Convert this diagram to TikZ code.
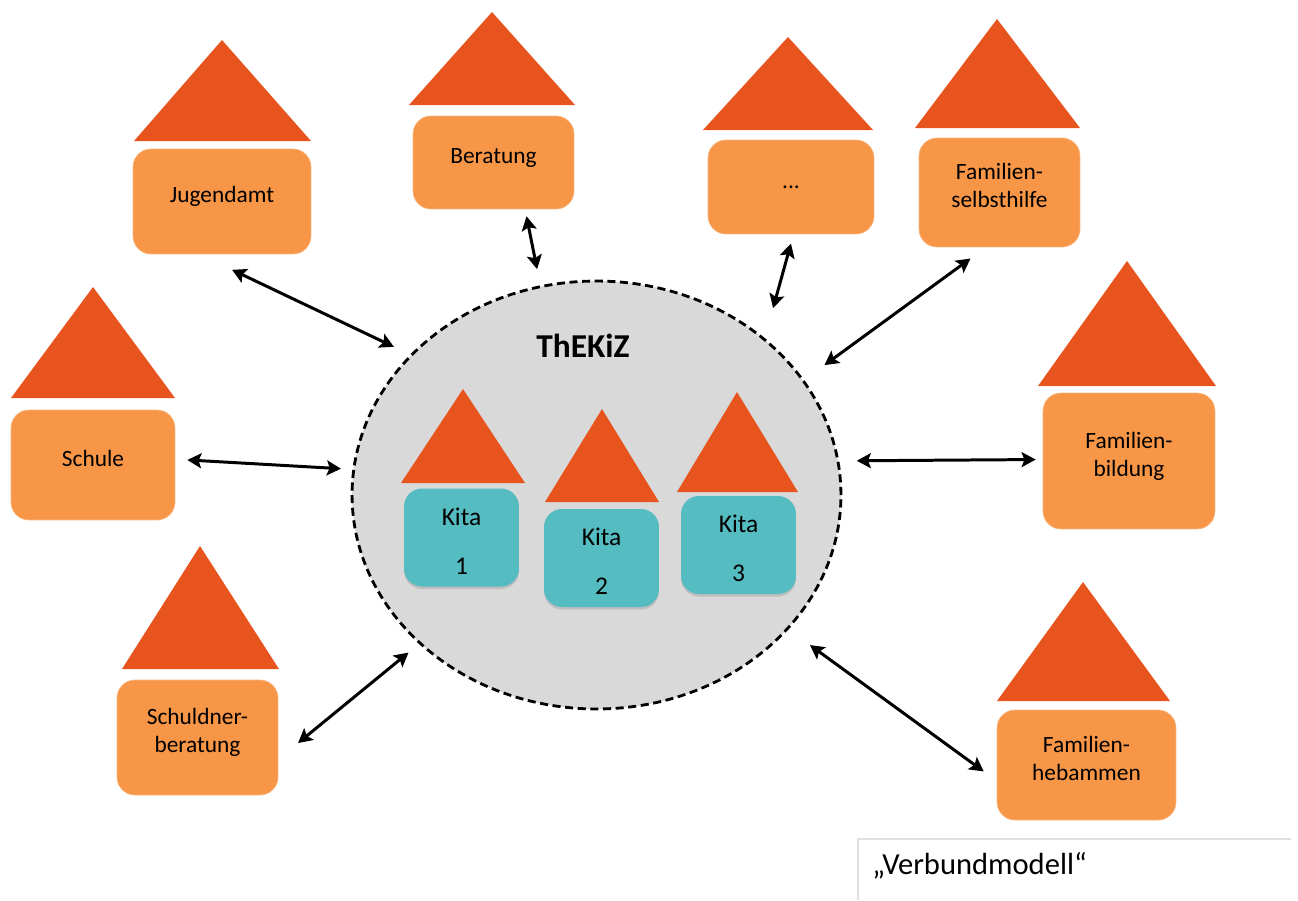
\documentclass[tikz,border=0pt]{standalone}
\usepackage{fontspec}
\setmainfont{Carlito}
\usetikzlibrary{arrows.meta,shapes.geometric,shadows}
\definecolor{roofred}{HTML}{E8541E}
\definecolor{boxorange}{HTML}{F79646}
\definecolor{kitateal}{HTML}{55BCC2}
\definecolor{netzgray}{HTML}{D9D9D9}
\tikzset{
>={Stealth[length=8pt,width=8.5pt,inset=1.6pt]},
  roof/.style={fill=roofred},
  partner/.style={
    rectangle,
    rounded corners=.36cm,
    fill=boxorange,
    draw=boxorange!70!white, thin,
    align=center,
    text depth=.28cm,
    font=\fontsize{13.3}{16}\selectfont},
  kita/.style={
    rectangle,
    rounded corners=.36cm,
    fill=kitateal,
    drop shadow={opacity=.3, shadow xshift=0cm, shadow yshift=-.05cm},
    minimum width=2.3cm,
    minimum height=1.96cm,
    align=center,
    text height=41.7pt,
    font=\fontsize{14.5}{27.8}\selectfont},
  netz/.style={
    ellipse,
    fill=netzgray,
    draw=black, line width=1.6pt,
    dash pattern=on 4.6pt off 2.6pt,
    minimum width=9.78cm,
    minimum height=8.56cm},
  link/.style={draw, line width=1.7pt, <->},
  legendline/.style={draw=black!12, line width=.6pt},
}
\begin{document}
\begin{tikzpicture}[x=.02cm, y=-.02cm]
	\useasboundingbox (0,0) rectangle (1298,900);
	\node[netz] (thekiz) at (596.5,495) {};
	\node[font=\fontsize{19}{22}\selectfont\bfseries] (title) at (583,346) {ThEKiZ};
	% Daecher
	\foreach \xl/\xr/\xa/\ya/\yb in {134/311/222/40/141, 409/575/492/12/105, 703/873/788/37/130,
		915/1080/997/19/128, 1038/1216/1127/261/386, 997/1170/1083/582/701, 11/175/93/287/398,
		122/279/200/546/669, 401/525/463/389/483, 545/659/602/409/502, 677/798/737/392/492}
		\fill[roof] (\xl,\yb) -- (\xr,\yb) -- (\xa,\ya) -- cycle;
	\node[partner, minimum width=3.56cm, minimum height=2.1cm] (jugendamt) at (222,201.5) {Jugendamt};
	\node[partner, minimum width=3.22cm, minimum height=1.86cm] (beratung) at (493.5,162.5) {Beratung};
	\node[partner, minimum width=3.32cm, minimum height=1.88cm, text depth=0pt] (dots) at (791,187) {...};
	\node[partner, minimum width=3.22cm, minimum height=2.18cm] (selbsthilfe) at (999.5,192.5) {Familien-\\selbsthilfe};
	\node[partner, minimum width=3.44cm, minimum height=2.72cm] (bildung) at (1129,461) {Familien-\\bildung};
	\node[partner, minimum width=3.58cm, minimum height=2.2cm] (hebammen) at (1086.5,765) {Familien-\\hebammen};
	\node[partner, minimum width=3.28cm, minimum height=2.2cm] (schule) at (93,465) {Schule};
	\node[partner, minimum width=3.22cm, minimum height=2.3cm] (schuldner) at (197.5,737.5) {Schuldner-\\beratung};
	\node[kita] (kita1) at (461.5,537.5) {Kita\\1};
	\node[kita] (kita2) at (601.5,558) {Kita\\2};
	\node[kita] (kita3) at (738.5,545) {Kita\\3};
	% Verbindungen
	\draw[link, shorten <=.72cm, shorten >=.36cm] (jugendamt.-113.1) -- (thekiz.143.6);
	\draw[link, shorten <=.14cm, shorten >=.33cm] (beratung.-56.2) -- (thekiz.105.1);
	\draw[link, shorten <=.19cm, shorten >=.62cm] (dots.-87.8) -- (thekiz.43.9);
	\draw[link, shorten <=.38cm, shorten >=.5cm] (selbsthilfe.-104.6) -- (thekiz.29.6);
	\draw[link, shorten <=.14cm, shorten >=.35cm] (bildung.179.3) -- (thekiz.8.3);
	\draw[link, shorten <=.32cm, shorten >=.53cm] (hebammen.190.4) -- (thekiz.-35.2);
	\draw[link, shorten <=.24cm, shorten >=.23cm] (schule.4.2) -- (thekiz.174.8);
	\draw[link, shorten <=.51cm, shorten >=.27cm] (schuldner.-15.6) -- (thekiz.220.6);
	% Legende
	\coordinate (legendtop) at (1291,839);
	\coordinate (legendcorner) at (858,839);
	\coordinate (legendfoot) at (858,900);
	\draw[legendline] (legendtop) -- (legendcorner) -- (legendfoot);
	\node[anchor=west, inner sep=0pt, font=\fontsize{17.4}{20}\selectfont] (legend) at (872,866) {„Verbundmodell“};
\end{tikzpicture}
\end{document}
